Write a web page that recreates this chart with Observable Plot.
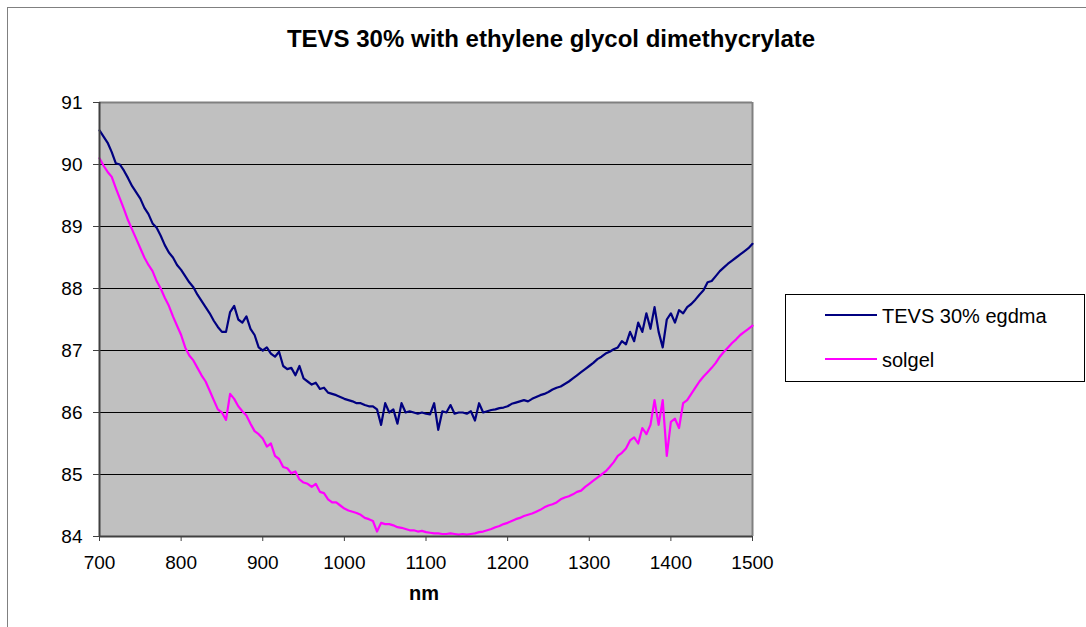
<!DOCTYPE html>
<html>
<head>
<meta charset="utf-8">
<script src="https://cdn.jsdelivr.net/npm/d3@7"></script>
<script src="https://cdn.jsdelivr.net/npm/@observablehq/plot@0.6"></script>
<style>
  html, body { margin: 0; padding: 0; background: #fff; overflow: hidden; }
  #wrap { position: relative; width: 1086px; height: 627px; overflow: hidden; font-family: "Liberation Sans", Arial, sans-serif; color: #000; }
  #frame { position: absolute; left: 7px; top: 7px; width: 1200px; height: 800px; border: 1px solid #808080; }
  #chart { position: absolute; left: 0; top: 0; }
  .title { position: absolute; left: 0; width: 1102px; top: 27px; text-align: center; font-size: 24px; font-weight: bold; line-height: 24px; white-space: nowrap; }
  .xlabel { position: absolute; left: 324px; width: 200px; top: 583px; text-align: center; font-size: 20px; font-weight: bold; line-height: 20px; }
  #legend { position: absolute; left: 785px; top: 294px; width: 298px; height: 86px; border: 1px solid #000; background: #fff; }
  .sw { position: absolute; left: 39px; width: 52px; height: 2px; }
  .lt { position: absolute; left: 96px; font-size: 20px; line-height: 20px; white-space: nowrap; }
</style>
</head>
<body>
<div id="wrap">
  <div id="frame"></div>
  <div id="chart"></div>
  <div class="title">TEVS 30% with ethylene glycol dimethycrylate</div>
  <div class="xlabel">nm</div>
  <div id="legend"></div>
</div>
<script>
const wavelengths = [
  700,705,710,715,720,725,730,735,740,745,
  750,755,760,765,770,775,780,785,790,795,
  800,805,810,815,820,825,830,835,840,845,
  850,855,860,865,870,875,880,885,890,895,
  900,905,910,915,920,925,930,935,940,945,
  950,955,960,965,970,975,980,985,990,995,
  1000,1005,1010,1015,1020,1025,1030,1035,1040,1045,
  1050,1055,1060,1065,1070,1075,1080,1085,1090,1095,
  1100,1105,1110,1115,1120,1125,1130,1135,1140,1145,
  1150,1155,1160,1165,1170,1175,1180,1185,1190,1195,
  1200,1205,1210,1215,1220,1225,1230,1235,1240,1245,
  1250,1255,1260,1265,1270,1275,1280,1285,1290,1295,
  1300,1305,1310,1315,1320,1325,1330,1335,1340,1345,
  1350,1355,1360,1365,1370,1375,1380,1385,1390,1395,
  1400,1405,1410,1415,1420,1425,1430,1435,1440,1445,
  1450,1455,1460,1465,1470,1475,1480,1485,1490,1495,
  1500
];

const tevsEgdma = [
  90.55,90.45,90.35,90.2,90.02,90.0,89.9,89.78,89.65,89.55,
  89.45,89.3,89.2,89.05,88.98,88.85,88.7,88.58,88.5,88.38,
  88.3,88.2,88.1,88.02,87.9,87.8,87.7,87.6,87.48,87.38,
  87.3,87.3,87.62,87.72,87.5,87.45,87.55,87.35,87.25,87.05,
  87.0,87.05,86.95,86.9,86.98,86.75,86.7,86.72,86.6,86.75,
  86.55,86.5,86.45,86.48,86.38,86.4,86.32,86.3,86.28,86.25,
  86.22,86.2,86.18,86.15,86.15,86.12,86.1,86.1,86.05,85.8,
  86.15,86.0,86.05,85.82,86.15,86.0,86.02,86.0,85.98,86.0,
  85.98,85.97,86.15,85.72,86.02,86.0,86.12,85.98,86.0,86.0,
  85.98,86.02,85.87,86.15,86.0,86.02,86.04,86.05,86.07,86.08,
  86.1,86.14,86.16,86.18,86.2,86.18,86.22,86.25,86.28,86.3,
  86.33,86.37,86.4,86.42,86.46,86.5,86.55,86.6,86.65,86.7,
  86.75,86.8,86.86,86.9,86.95,86.98,87.02,87.05,87.15,87.1,
  87.3,87.15,87.45,87.3,87.6,87.35,87.7,87.3,87.05,87.5,
  87.6,87.45,87.65,87.6,87.7,87.75,87.82,87.9,87.97,88.1,
  88.12,88.2,88.28,88.34,88.4,88.45,88.5,88.55,88.6,88.65,
  88.72
];

const solgel = [
  90.1,89.98,89.88,89.8,89.62,89.45,89.28,89.1,88.95,88.8,
  88.65,88.5,88.38,88.28,88.12,88.0,87.85,87.72,87.55,87.4,
  87.25,87.05,86.92,86.84,86.72,86.6,86.5,86.35,86.2,86.05,
  86.0,85.88,86.3,86.22,86.1,86.02,85.95,85.82,85.7,85.65,
  85.58,85.45,85.5,85.3,85.25,85.12,85.1,85.02,85.05,84.92,
  84.87,84.85,84.8,84.85,84.72,84.7,84.6,84.55,84.55,84.5,
  84.45,84.42,84.4,84.38,84.35,84.3,84.28,84.25,84.08,84.22,
  84.2,84.2,84.18,84.15,84.14,84.12,84.1,84.1,84.08,84.09,
  84.07,84.06,84.05,84.05,84.04,84.04,84.05,84.04,84.03,84.04,
  84.03,84.04,84.05,84.07,84.08,84.1,84.12,84.15,84.17,84.2,
  84.22,84.25,84.28,84.3,84.33,84.35,84.37,84.4,84.43,84.47,
  84.5,84.52,84.55,84.6,84.63,84.65,84.68,84.72,84.74,84.8,
  84.85,84.9,84.95,85.0,85.05,85.12,85.2,85.3,85.35,85.42,
  85.55,85.6,85.5,85.75,85.65,85.8,86.2,85.8,86.2,85.3,
  85.85,85.9,85.75,86.15,86.2,86.3,86.4,86.5,86.58,86.65,
  86.72,86.8,86.9,86.98,87.05,87.12,87.18,87.25,87.3,87.35,
  87.4
];

const seriesNames = ["TEVS 30% egdma", "solgel"];
const seriesColors = ["#000080", "#FF00FF"];
const xTicks = [700, 800, 900, 1000, 1100, 1200, 1300, 1400, 1500];
const yTicks = [84, 85, 86, 87, 88, 89, 90, 91];
const gridValues = [85, 86, 87, 88, 89, 90];

const rows = [];
wavelengths.forEach((w, i) => {
  rows.push({nm: w, v: tevsEgdma[i], s: seriesNames[0]});
  rows.push({nm: w, v: solgel[i], s: seriesNames[1]});
});

const chart = Plot.plot({
  width: 1086,
  height: 627,
  marginLeft: 99,
  marginRight: 334,
  marginTop: 102,
  marginBottom: 91,
  style: {fontFamily: "'Liberation Sans', Arial, sans-serif", fontSize: "19px", color: "#000", background: "transparent", overflow: "visible"},
  x: {domain: [700, 1500]},
  y: {domain: [84, 91]},
  color: {domain: seriesNames, range: seriesColors},
  marks: [
    Plot.frame({fill: "#C0C0C0", stroke: "none"}),
    Plot.ruleY(gridValues, {stroke: "#000", strokeWidth: 1}),
    Plot.ruleY([91], {stroke: "#808080", strokeWidth: 2}),
    Plot.ruleX([1500], {stroke: "#808080", strokeWidth: 2}),
    Plot.line(rows, {x: "nm", y: "v", z: "s", stroke: "s", strokeWidth: 2.2, strokeLinejoin: "round"}),
    Plot.ruleX([700], {stroke: "#404040", strokeWidth: 2}),
    Plot.ruleY([84], {stroke: "#404040", strokeWidth: 2}),
    Plot.axisX({ticks: xTicks, tickSize: 5, tickPadding: 14, fontSize: 19, label: null, tickFormat: d => String(d), stroke: "#404040"}),
    Plot.axisY({ticks: yTicks, tickSize: 6, tickPadding: 11, fontSize: 19, label: null, tickFormat: d => String(d), stroke: "#404040"})
  ]
});
document.getElementById("chart").appendChild(chart);

const legend = document.getElementById("legend");
seriesNames.forEach((name, i) => {
  const sw = document.createElement("div");
  sw.className = "sw";
  sw.style.top = (i === 0 ? 19 : 63) + "px";
  sw.style.background = seriesColors[i];
  legend.appendChild(sw);
  const t = document.createElement("div");
  t.className = "lt";
  t.style.top = (i === 0 ? 11 : 55) + "px";
  t.textContent = name;
  legend.appendChild(t);
});
</script>
</body>
</html>
